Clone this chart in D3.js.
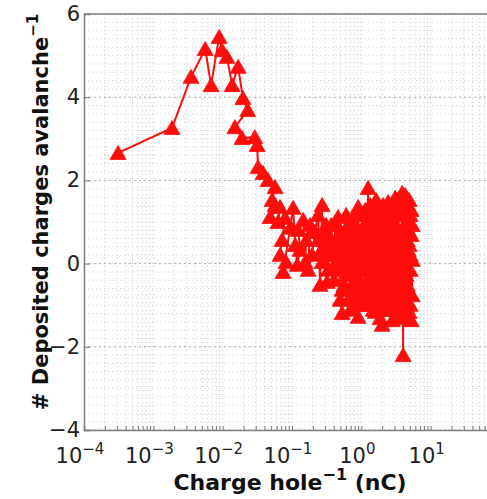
<!DOCTYPE html>
<html><head><meta charset="utf-8">
<script src="https://cdn.jsdelivr.net/npm/d3@7"></script>
<style>body{margin:0;background:#fff}svg{display:block}</style>
</head><body>
<svg id="c" width="487" height="499"></svg>
<script>
// Data (x: charge per hole in nC, y: deposited charges per avalanche)
const xValues = [
  3.1e-4, 1.86e-3, 3.5e-3, 5.6e-3, 6.8e-3, 8.9e-3, 9.8e-3, 1.15e-2, 1.37e-2, 1.67e-2,
  1.96e-2, 2.3e-2, 1.5e-2, 1.9e-2, 2.9e-2,
  0.0314, 0.0324, 0.0383, 0.0452, 0.057, 0.0516, 0.057, 0.0483, 0.0673, 0.063,
  0.0794, 0.0719, 0.0673, 0.0821, 0.0744, 0.094, 0.104, 0.111, 0.119, 0.131,
  0.123, 0.145, 0.155, 0.160, 0.182, 0.171, 0.195, 0.215, 0.238, 0.254,
  0.272, 0.272, 0.300, 0.311, 0.332, 0.355, 0.379, 0.405, 0.419, 0.448,
  0.463, 0.494, 0.528, 0.546, 0.584, 0.604, 0.645, 0.689, 0.712, 0.737,
  0.787, 0.814, 0.842, 0.900, 0.900, 0.962, 0.994, 1.028, 1.062, 1.135,
  1.174, 1.213, 1.254, 1.297, 1.340, 1.386, 1.432, 1.481, 1.531, 1.582,
  1.636, 1.691, 1.748, 1.807, 1.868, 1.931, 1.997, 2.064, 2.134, 2.205,
  2.280, 2.357, 2.437, 2.519, 2.606, 2.694, 2.785, 2.879, 2.976, 3.076,
  3.180, 3.288, 3.399, 3.514, 3.631, 3.754, 3.881, 4.012, 4.012, 4.148,
  4.288, 4.433, 4.583, 4.738, 4.898, 5.063, 5.063, 5.234, 5.411, 5.234,
  4.898, 5.411, 5.063, 4.583, 5.411, 4.738, 4.148, 3.631, 3.399, 3.076,
  2.606, 2.280, 1.997, 1.748, 1.432, 1.254, 1.098, 0.962, 0.842, 0.737,
  0.645, 0.565, 0.494, 0.584, 0.689,
  5.234, 4.898, 4.433, 4.288, 4.012, 3.754, 3.514, 3.288, 3.180, 2.976,
  2.785, 2.694, 2.519, 2.357, 2.280, 2.134, 1.997, 1.868, 1.807, 1.691,
  1.582, 1.531, 1.432, 1.340, 1.297, 1.213, 1.135, 1.098, 1.028, 0.962,
  0.930, 0.871, 0.814, 0.761, 0.737, 0.689, 0.645, 0.604, 0.565, 0.528,
  0.511, 0.478, 0.433, 0.405, 0.367, 0.343, 0.321, 0.291, 0.263, 0.238,
  5.063, 4.738, 4.433, 4.148, 3.881, 3.631, 3.399, 3.180, 2.976, 2.785,
  2.606, 2.437, 2.280, 2.134, 1.997, 1.868, 1.748, 1.636, 1.531, 1.432,
  1.340, 1.254, 1.174, 1.098, 1.028, 0.962, 0.900, 0.842, 0.787, 0.737
];
const yValues = [
  2.66, 3.26, 4.49, 5.16, 4.29, 5.45, 5.13, 4.97, 4.29, 4.73,
  3.98, 3.69, 3.28, 3.02, 3.04,
  2.85, 2.32, 2.18, 2.01, 1.84, 1.53, 1.41, 1.12, 1.36, 1.00,
  1.10, 0.57, 0.21, 0.04, -0.20, 0.86, 1.34, 0.45, -0.03, 0.33,
  0.81, 1.05, 0.04, 0.57, 0.93, -0.15, 0.21, 0.76, 1.17, -0.51,
  1.41, 0.04, 0.45, 0.93, -0.15, 0.62, 0.28, -0.39, 1.00, 0.04,
  1.12, -0.87, -1.19, 0.45, 0.81, -0.27, 0.09, 0.93, -0.63, 0.57,
  -0.99, 0.21, 1.17, -1.28, 1.36, -0.15, 0.69, -0.76, 0.33, 1.29,
  -0.44, 0.81, 1.82, -0.87, 0.45, 0.04, 1.17, -1.11, 0.69, -0.35,
  1.53, -0.68, 0.21, 1.05, -1.31, 0.57, -1.47, 1.41, -0.11, -0.63,
  0.86, 0.33, 1.48, -1.07, -0.27, 1.17, -1.36, 0.57, 0.09, 1.58,
  -0.76, 1.29, -0.44, 0.81, -1.24, 0.45, 1.70, -2.20, -0.03, 1.41,
  -0.87, 0.93, -0.51, 0.33, -1.16, 1.17, -0.15, 0.69, -0.76, -1.36,
  1.53, 0.09, -0.99, 0.57, 0.93, -0.63, -1.31, -0.15, -0.99, 0.21,
  -0.76, -1.11, -0.39, -0.99, -0.63, -0.15, -0.99, -0.51, -0.03, -0.76,
  -0.87, -0.51, -0.15, 0.33, -0.03,
  1.29, 0.45, -0.27, 1.65, 0.81, -0.63, 0.21, 1.53, -1.11, 0.93,
  -0.03, -0.87, 0.69, -0.51, 1.34, -1.11, 0.33, 0.93, -0.76, 0.57,
  -1.16, 1.17, -0.03, 0.81, -0.39, 0.33, -0.76, 0.93, 0.04, 0.57,
  -0.87, 0.81, -0.39, 0.33, 1.05, -1.11, 0.57, 1.17, 0.04, -0.63,
  0.76, 0.21, 0.57, -0.03, 0.93, 0.21, -0.44, 0.76, 0.33, 0.57,
  0.21, 0.81, -0.87, 0.04, 1.17, 0.33, 0.57, -0.15, -0.63, 1.29,
  0.21, 0.93, -0.11, 0.57, -0.87, -0.03, 1.24, 0.33, -0.63, 0.62,
  1.41, -0.87, 0.57, -0.15, 1.17, -0.99, 0.33, -0.63, 0.93, -0.11
];
const xTickExponents = [-4, -3, -2, -1, 0, 1];
const yTickValues = [-4, -2, 0, 2, 4, 6];
const xLabelMain = "Charge hole";
const xLabelSup = "\u22121";
const xLabelTail = " (nC)";
const yLabelMain = "# Deposited charges avalanche";
const yLabelSup = "\u22121";

const svg = d3.select("#c");
const L = 84, T = 14, R = 500, B = 430;
const x = d3.scaleLog().domain([1e-4, 1e2]).range([L, R]);
const y = d3.scaleLinear().domain([-4, 6]).range([B, T]);

svg.append("defs").append("clipPath").attr("id", "clip")
  .append("rect").attr("x", L).attr("y", T).attr("width", R - L).attr("height", B - T);

// grid
const grid = svg.append("g");
const xMinor = x.ticks(60).filter(v => v >= 1e-4 && v <= 1e2);
grid.selectAll(".gx").data(xMinor).enter().append("line")
  .attr("x1", d => x(d)).attr("x2", d => x(d)).attr("y1", T).attr("y2", B)
  .attr("stroke", "#c4c4c4").attr("stroke-width", 1).attr("stroke-dasharray", "1,3");
const yMinor = d3.range(-4, 6.001, 0.2);
grid.selectAll(".gy").data(yMinor).enter().append("line")
  .attr("x1", L).attr("x2", R).attr("y1", d => y(d)).attr("y2", d => y(d))
  .attr("stroke", "#d4d4d4").attr("stroke-width", 1).attr("stroke-dasharray", "1,3");
grid.selectAll(".gyM").data(yTickValues).enter().append("line")
  .attr("x1", L).attr("x2", R).attr("y1", d => y(d)).attr("y2", d => y(d))
  .attr("stroke", "#b0b0b0").attr("stroke-width", 1).attr("stroke-dasharray", "2,3");

// axes
const xAxis = d3.axisBottom(x).tickValues(xMinor).tickSize(-4).tickFormat("");
svg.append("g").attr("transform", `translate(0,${B})`).call(xAxis)
  .call(g => g.selectAll("line").attr("stroke", "#777"))
  .call(g => g.select(".domain").attr("stroke", "#808080").attr("stroke-width", 1.5));
const yAxis = d3.axisLeft(y).tickValues(yTickValues).tickSize(-6).tickFormat("");
svg.append("g").attr("transform", `translate(${L},0)`).call(yAxis)
  .call(g => g.selectAll("line").attr("stroke", "#777"))
  .call(g => g.select(".domain").attr("stroke", "#808080").attr("stroke-width", 1.5));
svg.append("line").attr("x1", L).attr("x2", R).attr("y1", T).attr("y2", T)
  .attr("stroke", "#808080").attr("stroke-width", 1.5);

// tick labels
const font = "'DejaVu Sans', sans-serif";
const xl = svg.append("g").attr("font-family", font).attr("fill", "#222");
xTickExponents.forEach(e => {
  const t = xl.append("text").attr("x", x(Math.pow(10, e)) - 4).attr("y", 463)
    .attr("text-anchor", "middle").attr("font-size", 21);
  t.append("tspan").text("10");
  t.append("tspan").attr("dy", -9).attr("font-size", 15).text(e < 0 ? "\u2212" + (-e) : String(e));
});
const yl = svg.append("g").attr("font-family", font).attr("fill", "#222");
yTickValues.forEach(v => {
  yl.append("text").attr("x", L - 4).attr("y", y(v) + 7).attr("text-anchor", "end")
    .attr("font-size", 21).text(v < 0 ? "\u2212" + (-v) : String(v));
});

// axis titles
const xt = svg.append("text").attr("x", 290).attr("y", 490).attr("text-anchor", "middle")
  .attr("font-family", font).attr("font-weight", "bold").attr("font-size", 22).attr("fill", "#111");
xt.append("tspan").text(xLabelMain);
xt.append("tspan").attr("dy", -10).attr("font-size", 16).text(xLabelSup);
xt.append("tspan").attr("dy", 10).text(xLabelTail);
const yt = svg.append("text").attr("transform", "translate(48,212) rotate(-90)")
  .attr("text-anchor", "middle").attr("font-family", font).attr("font-weight", "bold")
  .attr("font-size", 21).attr("fill", "#111");
yt.append("tspan").text(yLabelMain);
yt.append("tspan").attr("dy", -10).attr("font-size", 15).text(yLabelSup);

// data
const pts = xValues.map((v, i) => [v, yValues[i]]);
const plot = svg.append("g").attr("clip-path", "url(#clip)");
plot.append("path").datum(pts)
  .attr("d", d3.line().x(d => x(d[0])).y(d => y(d[1])))
  .attr("fill", "none").attr("stroke", "#ff0d0d").attr("stroke-width", 2);
plot.selectAll(".m").data(pts).enter().append("path")
  .attr("transform", d => `translate(${x(d[0])},${y(d[1])})`)
  .attr("d", "M0,-7.5L8,6.5L-8,6.5Z")
  .attr("fill", "#ff0d0d").attr("stroke", "#ff0d0d").attr("stroke-width", 0.8);
</script>
</body></html>
